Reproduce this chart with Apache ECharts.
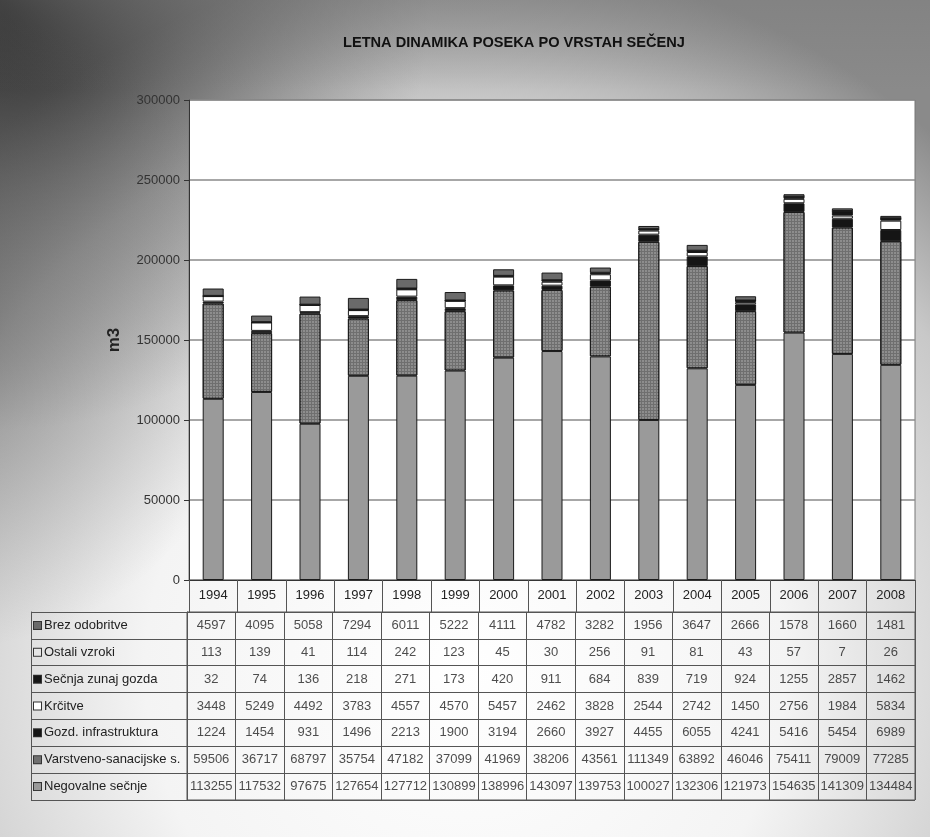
<!DOCTYPE html>
<html><head><meta charset="utf-8">
<script src="https://cdn.jsdelivr.net/npm/echarts@6/dist/echarts.min.js"></script>
<style>html,body{margin:0;padding:0;}#c{width:930px;height:837px;}</style>
</head><body><div id="c"></div>
<script>
var years = ['1994','1995','1996','1997','1998','1999','2000','2001','2002','2003','2004','2005','2006','2007','2008'];
var brezOdobritve = [4597,4095,5058,7294,6011,5222,4111,4782,3282,1956,3647,2666,1578,1660,1481];
var ostaliVzroki = [113,139,41,114,242,123,45,30,256,91,81,43,57,7,26];
var secnjaZunajGozda = [32,74,136,218,271,173,420,911,684,839,719,924,1255,2857,1462];
var krcitve = [3448,5249,4492,3783,4557,4570,5457,2462,3828,2544,2742,1450,2756,1984,5834];
var gozdInfrastruktura = [1224,1454,931,1496,2213,1900,3194,2660,3927,4455,6055,4241,5416,5454,6989];
var varstvenoSanacijske = [59506,36717,68797,35754,47182,37099,41969,38206,43561,111349,63892,46046,75411,79009,77285];
var negovalneSecnje = [113255,117532,97675,127654,127712,130899,138996,143097,139753,100027,132306,121973,154635,141309,134484];
var seriesNames = ['Brez odobritve','Ostali vzroki','Sečnja zunaj gozda','Krčitve','Gozd. infrastruktura','Varstveno-sanacijske s.','Negovalne sečnje'];
var yTicks = [0,50000,100000,150000,200000,250000,300000];

var colors = {
  'Negovalne sečnje':'#9a9a9a',
  'Varstveno-sanacijske s.':'#6f6f6f',
  'Gozd. infrastruktura':'#151515',
  'Krčitve':'#ffffff',
  'Sečnja zunaj gozda':'#151515',
  'Ostali vzroki':'#e6e6e6',
  'Brez odobritve':'#6a6a6a'
};
var valuesByName = {
  'Brez odobritve':brezOdobritve,
  'Ostali vzroki':ostaliVzroki,
  'Sečnja zunaj gozda':secnjaZunajGozda,
  'Krčitve':krcitve,
  'Gozd. infrastruktura':gozdInfrastruktura,
  'Varstveno-sanacijske s.':varstvenoSanacijske,
  'Negovalne sečnje':negovalneSecnje
};
var stackOrder = ['Negovalne sečnje','Varstveno-sanacijske s.','Gozd. infrastruktura','Krčitve','Sečnja zunaj gozda','Ostali vzroki','Brez odobritve'];

var font = 'Liberation Sans, Arial, sans-serif';
var chart = echarts.init(document.getElementById('c'));

var barSeries = stackOrder.map(function(n){
  var s = {
    name:n, type:'bar', stack:'t', xAxisIndex:0, yAxisIndex:0,
    barWidth:21, data: valuesByName[n],
    itemStyle:{color:colors[n], borderColor:'#1a1a1a', borderWidth:1}
  };
  if (n === 'Varstveno-sanacijske s.') {
    s.itemStyle.decal = {symbol:'circle', symbolSize:0.75, dashArrayX:[2,1], dashArrayY:[2,1], color:'rgba(200,200,200,0.85)'};
  }
  return s;
});

var cellData = [];
seriesNames.forEach(function(n, r){
  valuesByName[n].forEach(function(v, c){ cellData.push([c, r, v]); });
});

var rich = {t:{fontSize:13, color:'#222', fontFamily:font, padding:[0,0,0,3]}};
seriesNames.forEach(function(n, i){
  rich['b'+i] = {width:7, height:7, backgroundColor:colors[n], borderColor:'#333', borderWidth:1};
});

var option = {
  backgroundColor:{type:'radial', x:0.5, y:0.8, r:0.85, colorStops:[
    {offset:0,color:'#ffffff'},{offset:0.45,color:'#f4f4f4'},{offset:0.8,color:'#c8c8c8'},{offset:1,color:'#8a8a8a'}]},
  graphic:[
    {type:'circle', z:-10, shape:{cx:0, cy:0, r:430},
     style:{fill:{type:'radial', x:0.5, y:0.5, r:0.5, colorStops:[{offset:0,color:'rgba(25,25,25,0.95)'},{offset:0.45,color:'rgba(60,60,60,0.5)'},{offset:1,color:'rgba(90,90,90,0)'}]}}},
    {type:'circle', z:-10, shape:{cx:-60, cy:330, r:320},
     style:{fill:{type:'radial', x:0.5, y:0.5, r:0.5, colorStops:[{offset:0,color:'rgba(80,80,80,0.55)'},{offset:1,color:'rgba(90,90,90,0)'}]}}},
    {type:'rect', z:-10, shape:{x:0,y:0,width:930,height:90},
     style:{fill:{type:'linear', x:0, y:0, x2:0, y2:1, colorStops:[{offset:0,color:'rgba(120,120,120,0.4)'},{offset:1,color:'rgba(120,120,120,0)'}]}}}
  ],
  title:{text:'LETNA DINAMIKA POSEKA PO VRSTAH SEČENJ', left:338, top:30,
    textStyle:{fontFamily:font, fontSize:14.6, fontWeight:'bold', color:'#111'}},
  grid:[
    {left:189, right:15, top:100, height:480, show:true, backgroundColor:'#ffffff', borderColor:'#777', borderWidth:1},
    {left:187, right:15, top:612, height:188, show:true, backgroundColor:'rgba(0,0,0,0)', borderColor:'#555', borderWidth:1}
  ],
  xAxis:[
    {type:'category', gridIndex:0, data:years,
     axisLine:{lineStyle:{color:'#333'}},
     axisTick:{show:true, interval:0, length:32, lineStyle:{color:'#555'}},
     axisLabel:{interval:0, margin:9, fontSize:13, color:'#222', fontFamily:font}},
    {type:'category', gridIndex:1, data:years, show:true,
     axisLine:{show:false}, axisTick:{show:false}, axisLabel:{show:false},
     splitLine:{show:true, interval:0, lineStyle:{color:'#555'}}}
  ],
  yAxis:[
    {type:'value', gridIndex:0, min:0, max:300000, interval:50000,
     name:'m3', nameLocation:'middle', nameRotate:90, nameGap:66,
     nameTextStyle:{fontFamily:font, fontSize:17, fontWeight:'bold', color:'#222'},
     axisLine:{show:true, lineStyle:{color:'#333'}},
     axisTick:{show:true, length:5, lineStyle:{color:'#333'}},
     axisLabel:{fontSize:13, color:'#333', fontFamily:font, margin:9,
       formatter:function(v){ return yTicks.indexOf(v) >= 0 ? String(v) : ''; }},
     splitLine:{show:true, lineStyle:{color:'#8a8a8a', width:1.5}}},
    {type:'category', gridIndex:1, data:seriesNames, inverse:true,
     axisLine:{show:true, lineStyle:{color:'#555'}},
     axisTick:{show:true, interval:0, length:156, lineStyle:{color:'#555'}},
     axisLabel:{interval:0, align:'left', margin:153,
       formatter:function(v){ return '{b'+seriesNames.indexOf(v)+'|}{t|'+v+'}'; }, rich:rich},
     splitLine:{show:true, interval:0, lineStyle:{color:'#555'}}},
    {type:'category', gridIndex:1, data:seriesNames, inverse:true, position:'left', offset:156,
     axisLine:{show:true, lineStyle:{color:'#555'}},
     axisTick:{show:false}, axisLabel:{show:false}, splitLine:{show:false}}
  ],
  series: barSeries.concat([
    {type:'scatter', xAxisIndex:1, yAxisIndex:1, data:cellData, symbolSize:1,
     itemStyle:{color:'transparent'}, silent:true,
     label:{show:true, position:'inside', fontSize:13, color:'#222', fontFamily:font,
       formatter:function(p){ return String(p.value[2]); }}}
  ])
};
chart.setOption(option);
</script>
</body></html>
